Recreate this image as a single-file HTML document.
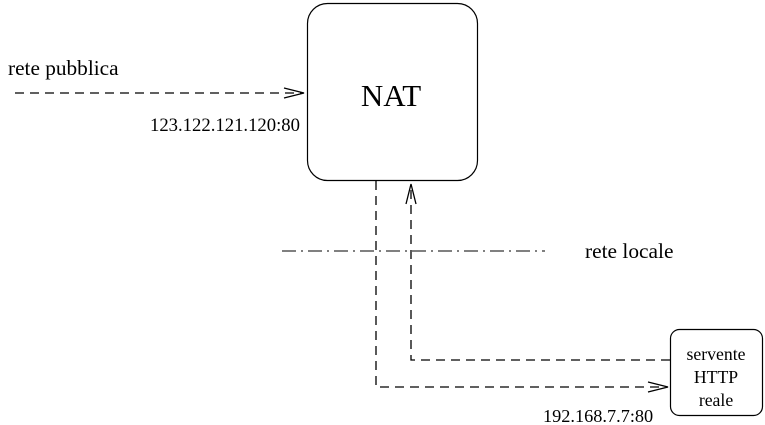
<!DOCTYPE html>
<html><head><style>html,body{margin:0;padding:0;background:#fff;}svg{display:block;}</style></head>
<body>
<svg width="765" height="425" viewBox="0 0 765 425" xmlns="http://www.w3.org/2000/svg" font-family="Liberation Serif, serif" fill="#000">
<rect x="307.5" y="3.5" width="170" height="177" rx="20" fill="none" stroke="#000" stroke-width="1.2"/>
<rect x="670.5" y="329.5" width="92" height="86" rx="9" fill="none" stroke="#000" stroke-width="1.2"/>
<g fill="none" stroke="#000" stroke-width="1.3" stroke-dasharray="9,6">
<path d="M15 93 H302"/>
<path d="M376 181 V387 H664"/>
<path d="M670 360 H411 V188"/>
</g>
<path d="M282 251 H545" fill="none" stroke="#000" stroke-width="1.1" stroke-dasharray="14,5,2,5"/>
<g fill="none" stroke="#000" stroke-width="1.3">
<path d="M284 88 L304 93 L284 98"/>
<path d="M648 382 L668 387 L648 392"/>
<path d="M406 204 L411 184 L416 204"/>
</g>
<text x="8" y="75" font-size="21.3">rete pubblica</text>
<text x="391" y="106" font-size="31" text-anchor="middle">NAT</text>
<text x="300" y="131" font-size="18.7" text-anchor="end">123.122.121.120:80</text>
<text x="585" y="258" font-size="21.4">rete locale</text>
<text x="716" y="360" font-size="17.7" text-anchor="middle">servente</text>
<text x="716" y="383" font-size="17.7" text-anchor="middle">HTTP</text>
<text x="716" y="406" font-size="17.7" text-anchor="middle">reale</text>
<text x="543" y="422" font-size="18.3">192.168.7.7:80</text>
</svg>
</body></html>
